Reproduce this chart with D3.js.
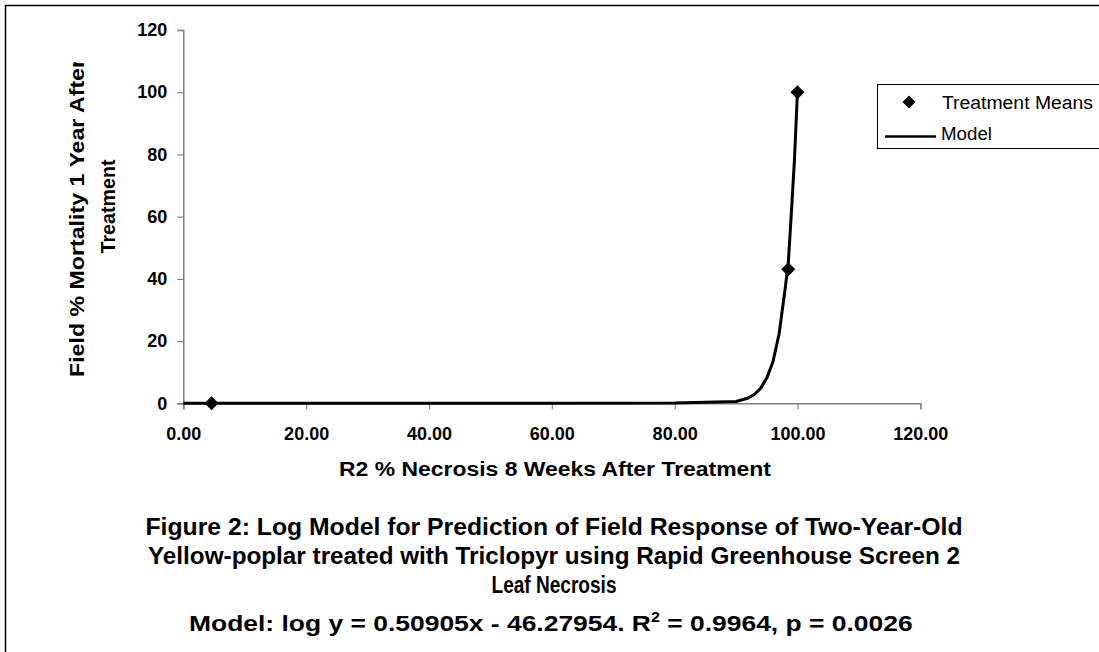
<!DOCTYPE html>
<html>
<head>
<meta charset="utf-8">
<script src="https://cdn.jsdelivr.net/npm/d3@7"></script>
<style>
  html, body { margin: 0; padding: 0; background: #fff; }
  svg { display: block; }
  text { font-family: "Liberation Sans", Arial, sans-serif; fill: #000; }
</style>
</head>
<body>
<svg id="chart" width="1099" height="652"></svg>
<script>
// Treatment means (R2 % necrosis vs. field % mortality)
const meanX = [4.6, 98.5, 100.0];
const meanY = [0, 43.1, 100.0];

// Fitted log model, sampled along the necrosis axis
const modelX = [0, 20, 40, 60, 80, 90, 92, 93, 94, 95, 96, 97, 98, 98.5, 99, 99.5, 100];
const modelY = [0, 0, 0, 0, 0.1, 0.6, 1.7, 2.9, 4.8, 8.1, 13.3, 22.2, 36.9, 45, 61, 78, 100];

const xTicks = [0, 20, 40, 60, 80, 100, 120];
const yTicks = [0, 20, 40, 60, 80, 100, 120];

const svg = d3.select("#chart");
const FONT = '"Liberation Sans", Arial, sans-serif';

// outer frame (runs off the right and bottom edges)
svg.append("rect")
  .attr("x", 5.5).attr("y", 5.5).attr("width", 1200).attr("height", 800)
  .attr("fill", "none").attr("stroke", "#000").attr("stroke-width", 1.5);

const x = d3.scaleLinear().domain([0, 120]).range([183.3, 920.3]);
const y = d3.scaleLinear().domain([0, 120]).range([403.3, 30]);

const axisColor = "#808080";

// y axis
const gy = svg.append("g").attr("transform", `translate(${x(0)},0)`)
  .call(d3.axisLeft(y).tickValues(yTicks).tickSize(6).tickPadding(10).tickFormat(d3.format("d")));
// x axis
const gx = svg.append("g").attr("transform", `translate(0,${y(0)})`)
  .call(d3.axisBottom(x).tickValues(xTicks).tickSize(6).tickPadding(18).tickFormat(d3.format(".2f")));

[gx, gy].forEach(g => {
  g.select(".domain").attr("stroke", axisColor).attr("stroke-width", 1.5);
  g.selectAll(".tick line").attr("stroke", axisColor).attr("stroke-width", 1.2);
  g.selectAll(".tick text")
    .style("font-family", FONT)
    .style("font-size", "18px").style("font-weight", "bold").attr("fill", "#000");
});

// model curve
const line = d3.line().x((d, i) => x(modelX[i])).y((d, i) => y(modelY[i]));
svg.append("path")
  .datum(modelX)
  .attr("d", line)
  .attr("fill", "none").attr("stroke", "#000").attr("stroke-width", 3)
  .attr("stroke-linejoin", "round");

// treatment means markers
const diamond = r => `M0,${-r}L${r},0L0,${r}L${-r},0Z`;
svg.append("g").selectAll("path")
  .data(meanX)
  .join("path")
  .attr("transform", (d, i) => `translate(${x(d)},${y(meanY[i])})`)
  .attr("d", diamond(7))
  .attr("fill", "#000");

// axis titles
svg.append("text")
  .attr("x", 555).attr("y", 476)
  .attr("text-anchor", "middle")
  .style("font-size", "20px").style("font-weight", "bold")
  .attr("textLength", 432).attr("lengthAdjust", "spacingAndGlyphs")
  .text("R2 % Necrosis 8 Weeks After Treatment");

svg.append("clipPath").attr("id", "ylabClip")
  .append("rect").attr("x", 0).attr("y", 62).attr("width", 160).attr("height", 400);

const ylab = svg.append("g").attr("clip-path", "url(#ylabClip)");
ylab.append("text")
  .attr("transform", "translate(84,377) rotate(-90)")
  .attr("text-anchor", "start")
  .style("font-size", "21px").style("font-weight", "bold")
  .attr("textLength", 318).attr("lengthAdjust", "spacingAndGlyphs")
  .text("Field % Mortality 1 Year After");
ylab.append("text")
  .attr("transform", "translate(115,206.5) rotate(-90)")
  .attr("text-anchor", "middle")
  .style("font-size", "21px").style("font-weight", "bold")
  .attr("textLength", 94).attr("lengthAdjust", "spacingAndGlyphs")
  .text("Treatment");

// legend
const leg = svg.append("g");
leg.append("rect")
  .attr("x", 877.5).attr("y", 84.5).attr("width", 400).attr("height", 64)
  .attr("fill", "#fff").attr("stroke", "#000").attr("stroke-width", 1);
leg.append("path").attr("transform", "translate(909,102)").attr("d", diamond(6.5)).attr("fill", "#000");
leg.append("text").attr("x", 942).attr("y", 108.5)
  .style("font-size", "18px")
  .attr("textLength", 151).attr("lengthAdjust", "spacingAndGlyphs")
  .text("Treatment Means");
leg.append("line").attr("x1", 885).attr("x2", 936).attr("y1", 136.5).attr("y2", 136.5)
  .attr("stroke", "#000").attr("stroke-width", 2.5);
leg.append("text").attr("x", 941).attr("y", 139.5)
  .style("font-size", "18px")
  .attr("textLength", 51).attr("lengthAdjust", "spacingAndGlyphs")
  .text("Model");

// figure caption
const caption = [
  { t: "Figure 2: Log Model for Prediction of Field Response of Two-Year-Old", y: 535, w: 817 },
  { t: "Yellow-poplar treated with Triclopyr using Rapid Greenhouse Screen 2", y: 564, w: 812 },
  { t: "Leaf Necrosis", y: 593, w: 125 }
];
svg.append("g").selectAll("text")
  .data(caption)
  .join("text")
  .attr("x", 554).attr("y", d => d.y)
  .attr("text-anchor", "middle")
  .style("font-size", "23px").style("font-weight", "bold")
  .attr("textLength", d => d.w).attr("lengthAdjust", "spacingAndGlyphs")
  .text(d => d.t);

// model statement, squeezed horizontally to its printed width
const modelText = svg.append("text")
  .attr("x", 0).attr("y", 0)
  .attr("text-anchor", "start")
  .style("font-size", "23px").style("font-weight", "bold");
modelText.append("tspan").text("Model: log y = 0.50905x - 46.27954. R");
modelText.append("tspan").attr("dy", -9).style("font-size", "14px").text("2");
modelText.append("tspan").attr("dy", 9).text(" = 0.9964, p = 0.0026");
const natural = modelText.node().getBBox().width;
const sx = 724 / natural;
modelText.attr("transform", `translate(189,631) scale(${sx},1)`);
</script>
</body>
</html>
